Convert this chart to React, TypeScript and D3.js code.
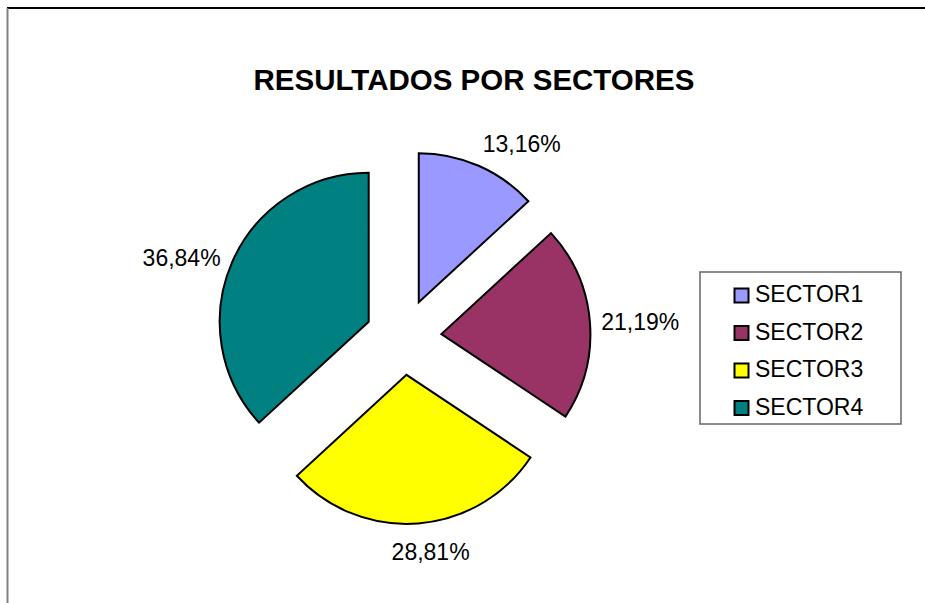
import React from "react";
import * as d3 from "d3";

const sectors = ["SECTOR1", "SECTOR2", "SECTOR3", "SECTOR4"];
const shares = [13.16, 21.19, 28.81, 36.84];
const colors = ["#9999FF", "#993366", "#FFFF00", "#008080"];
const title = "RESULTADOS POR SECTORES";

const W = 925;
const H = 603;
const cx = 403.5;
const cy = 337;
const radius = 149;
const explode = 38;
const labelPad = 18;
const font = "Arial, 'Liberation Sans', sans-serif";
// small layout corrections for the outside-end labels (Excel style placement)
const labelNudge: [number, number][] = [
  [20, 5],
  [-7, 2],
  [8, 0],
  [2, 8],
];

const fmt = (v: number) => v.toFixed(2).replace(".", ",") + "%";

const App: React.FC = () => {
  const pie = d3
    .pie<number>()
    .sort(null)
    .value((d) => d);
  const arcs = pie(shares);
  const arc = d3.arc<d3.PieArcDatum<number>>().innerRadius(0).outerRadius(radius);

  const labelW = 79;
  const labelH = 22;

  return (
    <svg
      width={W}
      height={H}
      style={{ position: "absolute", left: 0, top: 0, display: "block", background: "#fff" }}
    >
      {/* chart frame, clipped at right and bottom */}
      <line x1={7} y1={8} x2={W} y2={8} stroke="#000" strokeWidth={2} />
      <line x1={7.5} y1={8} x2={7.5} y2={H} stroke="#808080" strokeWidth={2} />

      <text
        x={474}
        y={90}
        textAnchor="middle"
        fontFamily={font}
        fontWeight="bold"
        fontSize={29.5}
      >
        {title}
      </text>

      <g transform={`translate(${cx},${cy})`}>
        {arcs.map((a, i) => {
          const mid = (a.startAngle + a.endAngle) / 2;
          const dx = Math.sin(mid) * explode;
          const dy = -Math.cos(mid) * explode;
          const lr = radius + labelPad;
          const lx = dx + Math.sin(mid) * lr + Math.sin(mid) * (labelW / 2) + labelNudge[i][0];
          const ly = dy - Math.cos(mid) * lr - Math.cos(mid) * (labelH / 2) + labelNudge[i][1];
          return (
            <g key={sectors[i]}>
              <path
                d={arc(a)!}
                transform={`translate(${dx},${dy})`}
                fill={colors[i]}
                stroke="#000"
                strokeWidth={2}
                strokeLinejoin="miter"
              />
              <text
                x={lx}
                y={ly + 8}
                textAnchor="middle"
                fontFamily={font}
                fontSize={23}
                fill="#000"
              >
                {fmt(shares[i])}
              </text>
            </g>
          );
        })}
      </g>

      <g transform="translate(700,272)">
        <rect x={0} y={0} width={201} height={152} fill="#fff" stroke="#666" strokeWidth={1.5} />
        {sectors.map((s, i) => (
          <g key={s} transform={`translate(0,${16 + i * 37.5})`}>
            <rect x={34.5} y={0.5} width={14} height={14} fill={colors[i]} stroke="#000" strokeWidth={2} />
            <text x={55} y={14} fontFamily={font} fontSize={23} fill="#000">
              {s}
            </text>
          </g>
        ))}
      </g>
    </svg>
  );
};

export default App;
